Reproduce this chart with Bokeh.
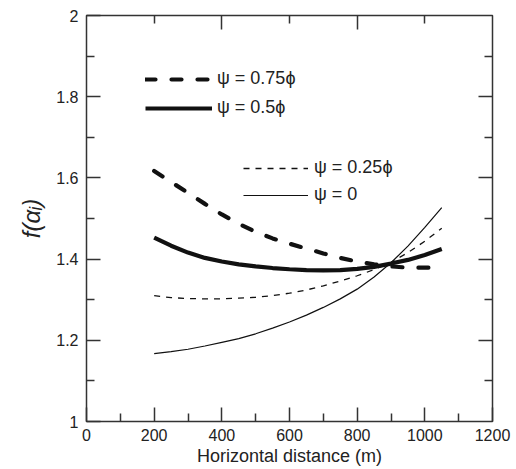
from bokeh.plotting import figure
from bokeh.models import Range1d, FixedTicker, LinearAxis, Legend, LegendItem
from bokeh.embed import file_html
from bokeh.resources import INLINE

# ---- data ----
distance = [200, 250, 300, 350, 400, 450, 500, 550, 600, 650, 700, 750, 800, 850, 900, 950, 1000, 1050]
f_psi_075 = [1.617, 1.590, 1.563, 1.536, 1.510, 1.487, 1.467, 1.451, 1.438, 1.426, 1.414, 1.403, 1.394, 1.387, 1.382, 1.379, 1.379, 1.379]
f_psi_050 = [1.453, 1.433, 1.416, 1.403, 1.394, 1.387, 1.382, 1.378, 1.375, 1.373, 1.372, 1.373, 1.376, 1.381, 1.389, 1.398, 1.410, 1.425]
f_psi_025 = [1.310, 1.305, 1.303, 1.302, 1.302, 1.304, 1.306, 1.310, 1.316, 1.324, 1.334, 1.346, 1.359, 1.374, 1.392, 1.416, 1.444, 1.476]
f_psi_000 = [1.167, 1.172, 1.178, 1.186, 1.195, 1.204, 1.216, 1.230, 1.245, 1.262, 1.281, 1.302, 1.326, 1.356, 1.391, 1.432, 1.478, 1.527]

series_labels = ["ψ = 0.75ϕ", "ψ = 0.5ϕ", "ψ = 0.25ϕ", "ψ = 0"]

x_major = [0, 200, 400, 600, 800, 1000, 1200]
x_minor = [100, 300, 500, 700, 900, 1100]
x_top_major = [400, 800]
x_top_minor = [200, 600, 1000]
y_major = [1, 1.2, 1.4, 1.6, 1.8, 2]
y_minor = [1.1, 1.3, 1.5, 1.7, 1.9]
y_right_major = [1.2, 1.4, 1.6, 1.8]
y_label_overrides = {1: "1", 2: "2"}

x_title = "Horizontal distance (m)"
y_title = "f(αᵢ)"

FONT = "Liberation Sans"
TXT = "#222222"
AX = "#333333"
INK = "#111111"

p = figure(width=516, height=469,
           x_range=Range1d(0, 1200), y_range=Range1d(1, 2),
           output_backend="svg", toolbar_location=None,
           min_border_left=86, min_border_right=24,
           min_border_top=15, min_border_bottom=48,
           background_fill_color="white", border_fill_color="white")

p.xgrid.visible = False
p.ygrid.visible = False
p.outline_line_color = AX
p.outline_line_width = 1.5


def style_axis(ax, labels=True):
    ax.axis_line_color = None
    ax.major_tick_in = 14
    ax.major_tick_out = 0
    ax.minor_tick_in = 8
    ax.minor_tick_out = 0
    ax.major_tick_line_color = AX
    ax.minor_tick_line_color = AX
    ax.major_tick_line_width = 1.5
    ax.minor_tick_line_width = 1.5
    ax.major_label_text_font = FONT
    ax.major_label_text_color = TXT
    if labels:
        ax.major_label_text_font_size = "16px"
    else:
        ax.major_label_text_font_size = "0px"
        ax.major_label_standoff = 0


xa = p.xaxis[0]
xa.ticker = FixedTicker(ticks=x_major, minor_ticks=x_minor)
style_axis(xa)
xa.major_label_standoff = 7
xa.axis_label = x_title
xa.axis_label_text_font = FONT
xa.axis_label_text_font_size = "18px"
xa.axis_label_text_font_style = "normal"
xa.axis_label_text_color = TXT
xa.axis_label_standoff = 2

ya = p.yaxis[0]
ya.ticker = FixedTicker(ticks=y_major, minor_ticks=y_minor)
style_axis(ya)
ya.major_label_standoff = 8
ya.major_label_overrides = y_label_overrides
ya.axis_label = y_title
ya.axis_label_text_font = FONT
ya.axis_label_text_font_size = "24px"
ya.axis_label_text_font_style = "italic"
ya.axis_label_text_color = TXT
ya.axis_label_standoff = 8

top = LinearAxis(ticker=FixedTicker(ticks=x_top_major, minor_ticks=x_top_minor))
style_axis(top, labels=False)
top.major_label_overrides = {v: "" for v in x_top_major}
p.add_layout(top, "above")

right = LinearAxis(ticker=FixedTicker(ticks=y_right_major, minor_ticks=y_minor))
style_axis(right, labels=False)
right.major_label_overrides = {v: "" for v in y_right_major}
p.add_layout(right, "right")

r75 = p.line(distance, f_psi_075, line_color=INK, line_width=4.2, line_dash="10 16", line_cap="round")
r50 = p.line(distance, f_psi_050, line_color=INK, line_width=4.2)
r25 = p.line(distance, f_psi_025, line_color=INK, line_width=1.3, line_dash="6 6")
r00 = p.line(distance, f_psi_000, line_color=INK, line_width=1.2)

common = dict(padding=0, margin=0, border_line_alpha=0, background_fill_alpha=0,
              glyph_height=20, label_height=20,
              label_text_font=FONT, label_text_font_size="18px", label_text_color=TXT)

leg1 = Legend(items=[LegendItem(label=series_labels[0], renderers=[r75]),
                     LegendItem(label=series_labels[1], renderers=[r50])],
              location=(59, 303), glyph_width=67, label_standoff=5, spacing=8, **common)
leg2 = Legend(items=[LegendItem(label=series_labels[2], renderers=[r25]),
                     LegendItem(label=series_labels[3], renderers=[r00])],
              location=(157, 216), glyph_width=65, label_standoff=6, spacing=6, **common)
p.add_layout(leg1, "center")
p.add_layout(leg2, "center")

open("out.html", "w").write(file_html(p, INLINE))
